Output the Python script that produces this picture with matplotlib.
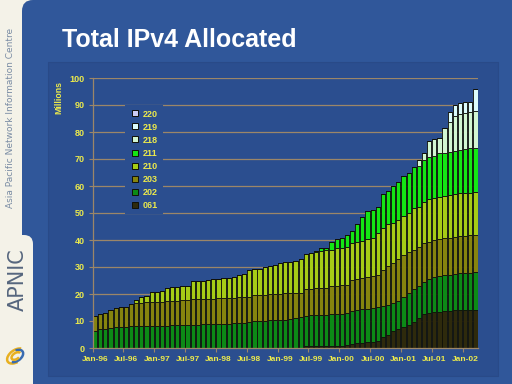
import numpy as np
import matplotlib
matplotlib.use('Agg')
import matplotlib.pyplot as plt
from matplotlib.patches import FancyBboxPatch, Rectangle, Arc
from matplotlib.transforms import IdentityTransform
from matplotlib.lines import Line2D

# Monthly bars, Jan-96 .. Mar-02, millions of addresses per /8 block
tick_labels = ['Jan-96', 'Jul-96', 'Jan-97', 'Jul-97', 'Jan-98', 'Jul-98', 'Jan-99',
               'Jul-99', 'Jan-00', 'Jul-00', 'Jan-01', 'Jul-01', 'Jan-02']

s061 = [0] * 41 + [0.7, 0.7, 0.8, 0.8, 0.8, 0.9, 0.9, 0.9, 1.0, 1.6, 1.7, 2.0, 2.1, 2.2,
                   2.6, 4.0, 5.0, 6.2, 7.0, 7.8, 8.5, 9.5, 11.0, 12.5, 13.0, 13.2, 13.4,
                   13.6, 13.8, 14.0, 14.1, 14.2, 14.2, 14.2]
s202 = [6.2, 7.0, 7.2, 7.5, 7.7, 7.8, 7.9, 8.0, 8.0, 8.1, 8.1, 8.2, 8.2, 8.3, 8.3, 8.4,
        8.4, 8.5, 8.5, 8.7, 8.7, 8.8, 8.8, 8.9, 8.9, 9.0, 9.0, 9.1, 9.1, 9.2, 9.8, 9.9,
        10.0, 10.1, 10.2, 10.3, 10.4, 10.5, 10.6, 11.0, 11.5, 11.3, 11.4, 11.4, 11.5, 11.6,
        11.6, 11.7, 11.8, 11.9, 12.2, 12.4, 12.3, 12.4, 12.8, 12.7, 11.5, 11.0, 10.6, 10.5,
        11.2, 12.0, 12.5, 12.0, 12.0, 12.5, 13.0, 13.4, 13.4, 13.4, 13.4, 13.5, 13.6, 13.7,
        13.8]
s203 = [5.7, 5.5, 5.6, 6.6, 7.0, 7.3, 7.4, 8.2, 8.5, 8.4, 8.8, 8.7, 8.7, 8.7, 9.0, 9.0,
        9.1, 9.3, 9.3, 9.4, 9.6, 9.5, 9.5, 9.4, 9.5, 9.4, 9.4, 9.3, 9.7, 9.6, 9.0, 9.7,
        9.7, 9.7, 9.7, 9.7, 9.7, 9.7, 9.7, 9.4, 9.0, 9.9, 9.9, 9.9, 9.8, 9.8, 10.5, 10.5,
        10.5, 10.4, 11.4, 11.4, 11.5, 11.9, 11.7, 11.7, 13.4, 14.5, 14.6, 15.5, 15.4, 15.2,
        14.3, 14.5, 14.5, 13.9, 13.8, 13.6, 13.6, 13.7, 13.8, 13.9, 13.8, 13.8, 13.9]
s210 = [0] * 8 + [1.3, 2.3, 2.5, 3.7, 4.0, 4.1, 4.8, 5.1, 5.2, 5.2, 5.2, 6.6, 6.5, 6.5,
                  6.9, 7.1, 7.2, 7.5, 7.6, 8.0, 8.2, 8.5, 10.1, 9.7, 9.7, 10.3, 10.5, 10.6,
                  11.3, 11.5, 11.7, 11.8, 12.5, 12.9, 13.1, 13.3, 13.9, 14.1, 13.3, 13.8,
                  13.7, 14.2, 13.6, 13.9, 14.0, 13.8, 13.9, 15.7, 15.4, 15.4, 15.0, 14.5,
                  14.5, 14.2, 15.4, 14.8, 15.2, 15.7, 15.4, 15.6, 15.7, 15.8, 15.7, 15.8,
                  15.9, 15.8, 15.8]
s211 = [0] * 43 + [0.5, 0.9, 0.9, 2.8, 3.3, 3.7, 4.4, 4.7, 6.5, 8.8, 10.5, 10.5, 9.6,
                   12.6, 12.4, 13.6, 14.1, 14.8, 15.0, 15.2, 15.1, 15.4, 15.8, 15.8, 16.1,
                   16.0, 16.0, 16.2, 16.0, 16.1, 16.4, 16.5]
s218 = [0] * 63 + [2.2, 2.5, 5.9, 6.1, 5.8, 9.1, 11.1, 12.8, 13.4, 13.6, 13.6, 13.4]
s219 = [0] * 69 + [3.7, 4.1, 3.9, 3.8, 3.7, 8.4]
s220 = [0] * 75

series = [('061', s061, '#2e2a0c'), ('202', s202, '#0c8a16'), ('203', s203, '#86840e'),
          ('210', s210, '#a6cc16'), ('211', s211, '#14e614'), ('218', s218, '#d2f6d2'),
          ('219', s219, '#dcfcfc'), ('220', s220, '#ccccf4')]

CREAM = '#f4f2e8'
BLUE = '#30579a'
CHART = '#2b4e8f'
TAN = '#9c8668'
YELLOW = '#ecea4c'

fig = plt.figure(figsize=(5.12, 3.84), dpi=100)
fig.patch.set_facecolor(CREAM)
px = IdentityTransform()

# slide background (pixel coords, origin bottom-left)
fig.patches.append(FancyBboxPatch((22, -30), 560, 414, boxstyle='round,pad=0,rounding_size=11',
                                  fc=BLUE, ec='none', transform=px, zorder=-5))
fig.patches.append(FancyBboxPatch((-30, -30), 63, 179, boxstyle='round,pad=0,rounding_size=9',
                                  fc=CREAM, ec='none', transform=px, zorder=-4))
fig.patches.append(Rectangle((48, 8), 450, 314, fc=CHART, ec='#294a88', lw=0.8,
                             transform=px, zorder=-3))

# sidebar texts and logo
fig.text(11, 266, 'Asia Pacific Network Information Centre', transform=px, rotation=90,
         ha='center', va='center', fontsize=6.5, color='#7a8ca4', family='DejaVu Sans')
fig.text(18, 104, 'APNIC', transform=px, rotation=90, ha='center', va='center',
         fontsize=15, color='#56667e', family='DejaVu Sans')
for w, h, ang, t1, t2, col in [(20, 12, 35, 20, 250, '#e8b020'), (16, 10, 35, 200, 420, '#3a6cb0'),
                               (10, 6, 35, 0, 300, '#e8b020')]:
    fig.patches.append(Arc((16, 28), w, h, angle=ang, theta1=t1, theta2=t2, color=col, lw=1.8,
                           transform=px, zorder=2))

fig.text(62, 337, 'Total IPv4 Allocated', transform=px, ha='left', va='baseline',
         fontsize=18, fontweight='bold', color='white', family='Liberation Sans')

ax = fig.add_axes([92.5 / 512, 36 / 384, 385.5 / 512, 270 / 384])
ax.set_facecolor('none')

x = np.arange(len(s061))
bottom = np.zeros(len(x))
for name, vals, col in series:
    vals = np.array(vals, dtype=float)
    ax.bar(x, vals, width=0.82, bottom=bottom, color=col, edgecolor='#101008', linewidth=0.6,
           zorder=2)
    bottom += vals

ax.set_xlim(-0.5, len(x) - 0.5)
ax.set_ylim(0, 100)
ax.set_yticks(np.arange(0, 101, 10))
ax.yaxis.grid(True, color=TAN, lw=0.9)
ax.set_axisbelow(True)

# tick marks between categories, labels under category centres
ax.set_xticks(np.arange(0, len(x), 6) - 0.5)
ax.set_xticklabels([])
ax.set_xticks(np.arange(0, len(x), 6), tick_labels, minor=True)
ax.tick_params(axis='x', which='major', length=3, color=TAN, width=0.8)
ax.tick_params(axis='x', which='minor', length=0, pad=6, labelsize=6, labelcolor=YELLOW)
ax.tick_params(axis='y', length=3, color=TAN, width=0.8, pad=2.5, labelsize=6.5,
               labelcolor=YELLOW)
for lab in ax.get_xticklabels(minor=True) + ax.get_yticklabels():
    lab.set_fontweight('bold')
    lab.set_family('Liberation Sans')

for side in ['top', 'right']:
    ax.spines[side].set_visible(False)
for side in ['left', 'bottom']:
    ax.spines[side].set_color(TAN)
    ax.spines[side].set_linewidth(0.9)

fig.text(59, 286, 'Millions', transform=px, rotation=90, ha='center', va='center',
         fontsize=6.3, fontweight='bold', color=YELLOW, family='Liberation Sans')

handles = [Line2D([], [], ls='none', marker='s', markersize=5, markerfacecolor=col,
                  markeredgecolor='#101008', markeredgewidth=0.7) for _, _, col in series]
labels = [name for name, _, _ in series]
leg = ax.legend(handles[::-1], labels[::-1], loc='upper left', bbox_to_anchor=(125, 279),
                bbox_transform=px, borderaxespad=0, borderpad=0.5, handlelength=1.2,
                handletextpad=0.3, labelspacing=0.45, fontsize=6.5, frameon=True,
                facecolor=CHART, edgecolor='none', framealpha=1, fancybox=False)
for t in leg.get_texts():
    t.set_color(YELLOW)
    t.set_fontweight('bold')
    t.set_family('Liberation Sans')

fig.savefig('out.png', dpi=100, facecolor=fig.get_facecolor())
